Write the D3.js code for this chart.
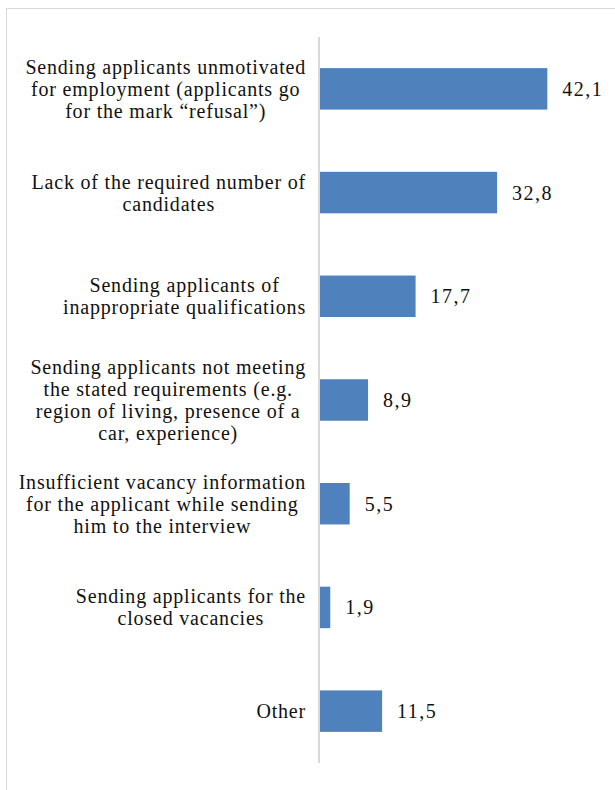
<!DOCTYPE html>
<html>
<head>
<meta charset="utf-8">
<script src="https://cdn.jsdelivr.net/npm/d3@7"></script>
<style>
  html, body { margin: 0; padding: 0; background: #fff; }
  svg { display: block; }
</style>
</head>
<body>
<svg id="chart" width="615" height="790"></svg>
<script>
// categories (each one is a list of wrapped lines, as in the original)
const categories = [
  ["Sending applicants unmotivated", "for employment (applicants go", "for the mark \u201crefusal\u201d)"],
  ["Lack of the required number of", "candidates"],
  ["Sending applicants of", "inappropriate qualifications"],
  ["Sending applicants not meeting", "the stated requirements (e.g.", "region of living, presence of a", "car, experience)"],
  ["Insufficient vacancy information", "for the applicant while sending", "him to the interview"],
  ["Sending applicants for the", "closed vacancies"],
  ["Other"]
]
const values = [42.1, 32.8, 17.7, 8.9, 5.5, 1.9, 11.5]
const xMax = 45

const svg = d3.select("#chart")
const font = "'Liberation Serif', 'Times New Roman', serif"
const fontSize = 20
const lineH = 22

// outer frame of the chart area (runs off the right and bottom)
svg.append("rect")
  .attr("x", 6.5).attr("y", 8.5)
  .attr("width", 700).attr("height", 900)
  .attr("fill", "none")
  .attr("stroke", "#d9d9d9")

const x = d3.scaleLinear()
  .domain([0, xMax])
  .range([320, 563])

const y = d3.scaleBand()
  .domain(d3.range(categories.length))
  .range([37, 763])
  .paddingInner(0.6)
  .paddingOuter(0.3)

// bars
svg.append("g")
  .selectAll("rect")
  .data(values)
  .join("rect")
  .attr("x", x(0))
  .attr("y", (d, i) => y(i))
  .attr("width", d => x(d) - x(0))
  .attr("height", y.bandwidth())
  .attr("fill", "#4f81bd")

// vertical category axis line
svg.append("line")
  .attr("x1", 319).attr("x2", 319)
  .attr("y1", 37).attr("y2", 763)
  .attr("stroke", "#d9d9d9")
  .attr("stroke-width", 2)

// value labels
svg.append("g")
  .selectAll("text")
  .data(values)
  .join("text")
  .attr("x", d => x(d) + 15)
  .attr("y", (d, i) => y(i) + y.bandwidth() / 2 + 7)
  .style("font-family", font)
  .style("font-size", fontSize + "px")
  .style("letter-spacing", "1.5px")
  .style("fill", "#111")
  .text(d => d3.format(".1f")(d).replace(".", ","))

// category labels: lines centred inside a block that is right-aligned to the axis
const labelRight = 306
const labels = svg.append("g")
categories.forEach((lines, i) => {
  const g = labels.append("g")
  const cy = y(i) + y.bandwidth() / 2
  const t = g.selectAll("text")
    .data(lines)
    .join("text")
    .attr("text-anchor", "middle")
    .attr("y", (d, j) => cy + (j - (lines.length - 1) / 2) * lineH + 7)
    .style("font-family", font)
    .style("font-size", fontSize + "px")
    .style("letter-spacing", "0.8px")
    .style("fill", "#111")
    .text(d => d)
  let w = 0
  t.each(function () { w = Math.max(w, this.getComputedTextLength()) })
  t.attr("x", labelRight - w / 2)
})
</script>
</body>
</html>
